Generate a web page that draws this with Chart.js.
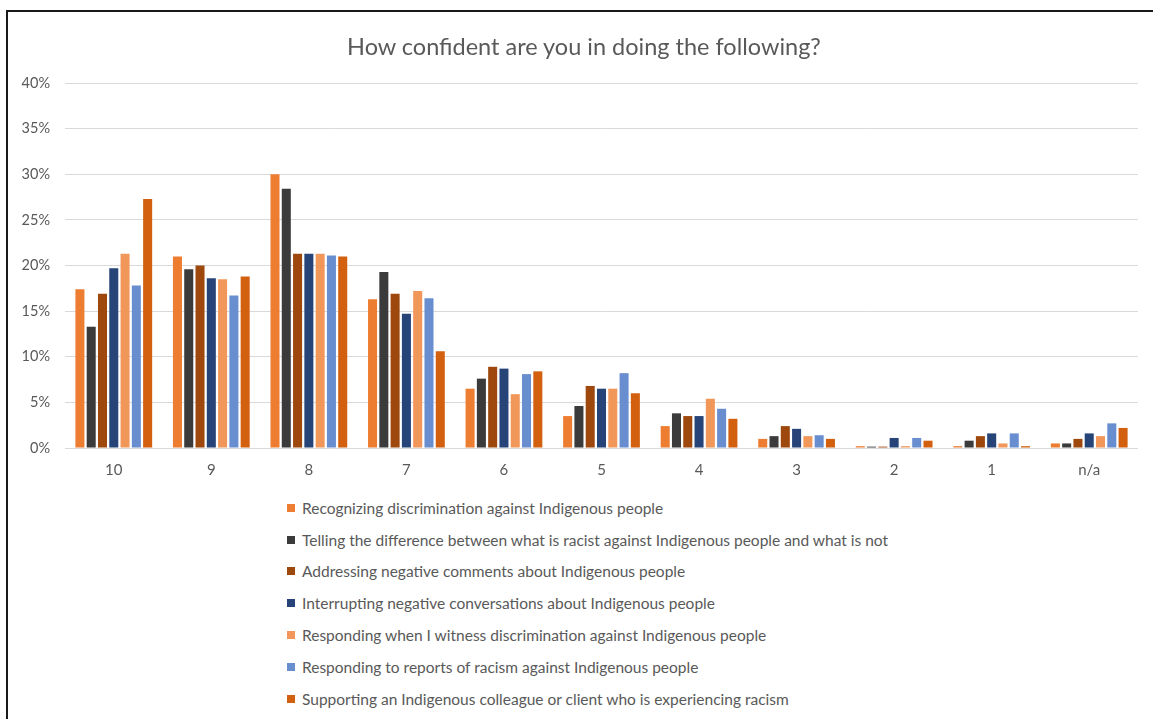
<!DOCTYPE html>
<html>
<head>
<meta charset="utf-8">
<script src="https://cdn.jsdelivr.net/npm/chart.js@4.4.1/dist/chart.umd.min.js"></script>
<style>
  html, body { margin: 0; padding: 0; background: #fff; width: 1153px; height: 719px; overflow: hidden; }
  #frame { position: absolute; left: 6px; top: 10px; width: 1200px; height: 760px;
           border-left: 2px solid #1a1a1a; border-top: 2px solid #1a1a1a; box-sizing: border-box; }
  #wrap { position: absolute; left: 0; top: 0; width: 1153px; height: 492px; }
  #title { position: absolute; left: 0; width: 1168px; top: 32px; height: 28px; line-height: 28px;
           text-align: center; font-family: Lato, "Open Sans", sans-serif; font-size: 23.5px; color: #595959; }
  #legend { position: absolute; left: 287px; top: 492px; font-family: Lato, "Open Sans", sans-serif;
            font-size: 15.5px; color: #595959; }
  #legend .item { height: 31.8px; display: flex; align-items: center; white-space: nowrap; }
  #legend .sw { width: 8px; height: 8px; margin-right: 7px; flex: none; }
</style>
</head>
<body>
<div id="frame"></div>
<div id="wrap"><canvas id="chart"></canvas></div>
<div id="title">How confident are you in doing the following?</div>
<div id="legend"></div>
<script>
// Confidence rating (10 = most confident) and share of respondents, in percent
const categories = ['10', '9', '8', '7', '6', '5', '4', '3', '2', '1', 'n/a'];

const recognizing  = [17.4, 21.0, 30.0, 16.3, 6.5, 3.5, 2.4, 1.0, 0.2, 0.2, 0.5];
const telling      = [13.3, 19.6, 28.4, 19.3, 7.6, 4.6, 3.8, 1.3, 0.15, 0.8, 0.5];
const addressing   = [16.9, 20.0, 21.3, 16.9, 8.9, 6.8, 3.5, 2.4, 0.15, 1.3, 1.0];
const interrupting = [19.7, 18.6, 21.3, 14.7, 8.7, 6.5, 3.5, 2.1, 1.1, 1.6, 1.6];
const witnessing   = [21.3, 18.5, 21.3, 17.2, 5.9, 6.5, 5.4, 1.3, 0.2, 0.5, 1.3];
const reports      = [17.8, 16.7, 21.1, 16.4, 8.1, 8.2, 4.3, 1.4, 1.1, 1.6, 2.7];
const supporting   = [27.3, 18.8, 21.0, 10.6, 8.4, 6.0, 3.2, 1.0, 0.8, 0.2, 2.2];

const seriesLabels = [
  'Recognizing discrimination against Indigenous people',
  'Telling the difference between what is racist against Indigenous people and what is not',
  'Addressing negative comments about Indigenous people',
  'Interrupting negative conversations about Indigenous people',
  'Responding when I witness discrimination against Indigenous people',
  'Responding to reports of racism against Indigenous people',
  'Supporting an Indigenous colleague or client who is experiencing racism'
];
const seriesValues = [recognizing, telling, addressing, interrupting, witnessing, reports, supporting];
const seriesColors = ['#ED7D31', '#3B3B3B', '#9E480E', '#264478', '#F1975A', '#698ED0', '#D2600F'];

const yTicks = [0, 5, 10, 15, 20, 25, 30, 35, 40];

const FONT = 'Lato, "Open Sans", sans-serif';
const TEXT = '#595959';

const chart = new Chart(document.getElementById('chart'), {
  type: 'bar',
  data: {
    labels: categories,
    datasets: seriesValues.map((vals, i) => ({
      label: seriesLabels[i],
      data: vals,
      backgroundColor: seriesColors[i],
      borderWidth: 0,
      categoryPercentage: 0.81,
      barPercentage: 0.8
    }))
  },
  options: {
    responsive: true,
    maintainAspectRatio: false,
    animation: false,
    layout: { padding: { left: 0, right: 15, top: 83, bottom: 0 } },
    plugins: {
      legend: { display: false },
      tooltip: { enabled: false },
      title: { display: false }
    },
    scales: {
      x: {
        grid: { display: false, drawTicks: false },
        border: { display: false },
        ticks: { color: TEXT, font: { family: FONT, size: 15 }, padding: 13 }
      },
      y: {
        min: 0,
        max: 40,
        afterBuildTicks: (axis) => { axis.ticks = yTicks.map(v => ({ value: v })); },
        afterFit: (axis) => { axis.width = 65; },
        grid: { color: '#D9D9D9', lineWidth: 1, drawTicks: false },
        border: { display: false },
        ticks: {
          color: TEXT,
          font: { family: FONT, size: 14.5 },
          padding: 15,
          callback: (v) => v + '%'
        }
      }
    }
  }
});

// Legend: one entry per line, colours taken from the chart's datasets
const legendBox = document.getElementById('legend');
chart.data.datasets.forEach((ds) => {
  const row = document.createElement('div');
  row.className = 'item';
  const sw = document.createElement('span');
  sw.className = 'sw';
  sw.style.background = ds.backgroundColor;
  const txt = document.createElement('span');
  txt.textContent = ds.label;
  row.appendChild(sw);
  row.appendChild(txt);
  legendBox.appendChild(row);
});
</script>
</body>
</html>
